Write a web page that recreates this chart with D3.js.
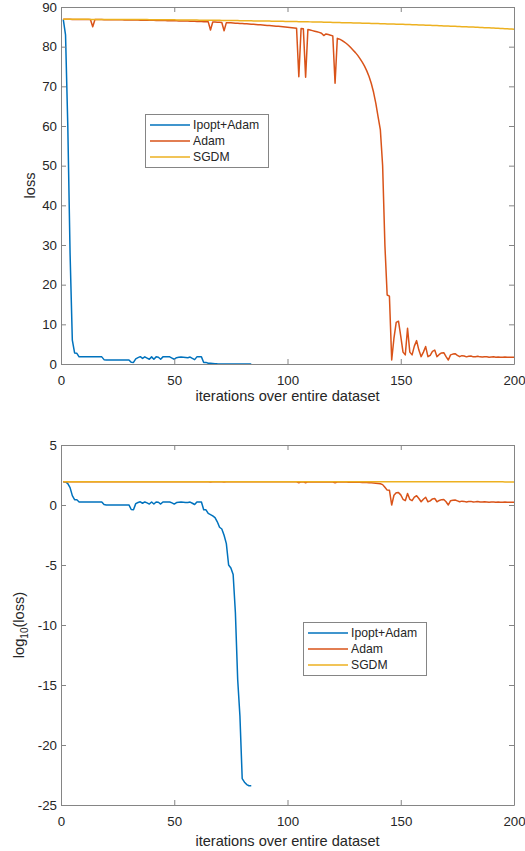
<!DOCTYPE html>
<html><head><meta charset="utf-8">
<script src="https://cdn.jsdelivr.net/npm/d3@7"></script>
<style>
body{margin:0;background:#fff}
svg{display:block}
text{font-family:"Liberation Sans",Arial,Helvetica,sans-serif;fill:#262626}
</style>
</head><body>
<svg id="chart" width="525" height="851"></svg>
<script>
// ---------------- data ----------------
const xTicks = [0, 50, 100, 150, 200];
const yTicksTop = [0, 10, 20, 30, 40, 50, 60, 70, 80, 90];
const yTicksBottom = [-25, -20, -15, -10, -5, 0, 5];
const seriesNames = ["Ipopt+Adam", "Adam", "SGDM"];
const seriesColors = ["#0072BD", "#D95319", "#EDB120"];

// loss per iteration (iteration 1..N)
const ipoptAdam = [
 86.9, 83, 60, 28, 6, 2.8, 2.7, 1.8,
 1.8,1.8,1.8,1.8,1.8,1.8,1.8,1.8,1.8,1.8,
 1.1,
 1.02,1.02,1.02,1.02,1.02,1.02,1.02,1.02,1.02,1.02,1.02,
 0.42,0.4,
 1.3,1.6,1.85,1.4,1.8,1.5,1.2,1.8,1.2,1.8,
 1.7,1.2,1.8,1.8,1.8,1.8,1.5,1.2,1.6,1.7,
 1.75,1.7,1.65,1.6,1.75,1.4,1.1,1.8,1.8,1.8,
 0.4,0.4,0.2,0.16,0.125,0.09,0.04,0.014,0.01,0.003,
 6e-4,1e-5,5.6e-6,1.6e-6,1e-9,3e-15,2.5e-18,1.6e-23,8e-24,5e-24,
 4e-24,4e-24
];
const adam = [
 86.9,86.9,86.9,86.9,86.88,86.88,86.87,86.87,86.86,86.86,
 86.85,86.85,86.84,85.0,86.83,86.83,86.82,86.82,86.81,86.8,
 86.8,86.79,86.78,86.78,86.77,86.76,86.76,86.75,86.74,86.73,
 86.72,86.72,86.71,86.7,86.69,86.68,86.67,86.66,86.65,86.64,
 86.63,86.62,86.61,86.6,86.59,86.58,86.56,86.55,86.54,86.52,
 86.51,86.5,86.48,86.47,86.45,86.44,86.42,86.4,86.38,86.37,
 86.35,86.33,86.31,86.28,86.26,84.2,86.22,86.19,86.17,86.14,
 86.11,84.0,86.06,86.03,86.0,85.97,85.93,85.9,85.86,85.82,
 85.79,85.75,85.71,85.67,85.63,85.58,85.54,85.5,85.45,85.41,
 85.36,85.31,85.27,85.22,85.17,85.12,85.06,85.01,84.96,84.9,
 84.85,84.79,84.73,84.67,72.4,84.55,84.49,72.3,84.3,84.2,
 84.05,83.9,83.75,83.6,83.4,82.8,83.2,83.05,82.9,82.7,
 70.8,82.1,81.9,81.6,81.2,80.8,80.3,79.7,79.1,78.5,
 77.8,77.0,76.1,75.1,73.9,72.5,70.7,68.5,65.7,62.3,
 59,50,30,17.4,17.1,1.0,6.5,10.5,10.8,7.0,
 3.0,2.3,9.0,3.0,2.3,4.5,5.9,3.5,1.85,3.0,
 4.4,1.85,2.2,3.2,3.5,1.85,2.4,2.8,2.85,1.85,
 1.0,2.3,2.5,2.6,2.2,1.85,2.1,2.0,1.8,1.95,
 2.0,1.8,1.85,1.95,1.8,1.75,1.85,1.8,1.7,1.75,
 1.8,1.7,1.75,1.7,1.7,1.75,1.7,1.7,1.7,1.7
];
const sgdm = [
 86.90,86.90,86.90,86.90,86.90,86.89,86.89,86.89,86.89,86.89,
 86.89,86.89,86.88,86.88,86.88,86.88,86.88,86.87,86.87,86.87,
 86.87,86.87,86.86,86.86,86.86,86.86,86.85,86.85,86.85,86.85,
 86.84,86.84,86.84,86.83,86.83,86.83,86.82,86.82,86.81,86.81,
 86.81,86.80,86.80,86.79,86.79,86.78,86.78,86.77,86.77,86.76,
 86.75,86.75,86.74,86.74,86.73,86.73,86.72,86.71,86.71,86.70,
 86.69,86.69,86.68,86.67,86.67,86.66,86.65,86.65,86.64,86.63,
 86.62,86.61,86.61,86.60,86.59,86.58,86.57,86.57,86.56,86.55,
 86.54,86.53,86.52,86.51,86.50,86.50,86.49,86.48,86.47,86.46,
 86.45,86.44,86.43,86.42,86.41,86.40,86.39,86.38,86.37,86.36,
 86.35,86.34,86.33,86.32,86.31,86.29,86.28,86.27,86.26,86.25,
 86.24,86.22,86.21,86.20,86.19,86.17,86.16,86.15,86.13,86.12,
 86.11,86.09,86.08,86.06,86.05,86.04,86.02,86.01,85.99,85.98,
 85.96,85.95,85.93,85.91,85.90,85.88,85.86,85.85,85.83,85.82,
 85.80,85.78,85.76,85.74,85.73,85.71,85.69,85.67,85.65,85.64,
 85.62,85.60,85.58,85.56,85.54,85.52,85.50,85.48,85.46,85.44,
 85.42,85.40,85.37,85.35,85.33,85.31,85.29,85.26,85.24,85.22,
 85.20,85.17,85.15,85.13,85.10,85.08,85.05,85.03,85.01,84.98,
 84.95,84.93,84.90,84.87,84.85,84.82,84.79,84.77,84.74,84.71,
 84.68,84.65,84.62,84.59,84.56,84.54,84.51,84.48,84.45,84.42
];
const seriesValues = [ipoptAdam, adam, sgdm];
const xLabel = "iterations over entire dataset";

// ---------------- drawing ----------------
const svg = d3.select("#chart");
const FONT = '"Liberation Sans", Arial, Helvetica, sans-serif';
const AXIS_COLOR = "#858585";
const x = d3.scaleLinear().domain([0, 200]).range([61, 514]);

const panels = [
  {top: 7, bottom: 364, domain: [0, 90], ticks: yTicksTop, f: v => v,
   ylabel: "loss", ylabelX: 35, titleY: 401, legend: {x: 145, y: 114}},
  {top: 445, bottom: 805, domain: [-25, 5], ticks: yTicksBottom, f: v => Math.log10(v),
   ylabel: null, ylabelX: 24, titleY: 846, legend: {x: 303, y: 622}}
];

function styleAxis(g, showText) {
  g.attr("font-family", FONT).attr("font-size", 13.3);
  g.select(".domain").attr("stroke", AXIS_COLOR);
  g.selectAll(".tick line").attr("stroke", AXIS_COLOR);
  g.selectAll(".tick text").attr("fill", "#262626");
  if (!showText) g.selectAll(".tick text").remove();
}

panels.forEach(p => {
  const y = d3.scaleLinear().domain(p.domain).range([p.bottom, p.top]);
  const g = svg.append("g");

  const line = d3.line().x(d => x(d[0])).y(d => y(p.f(d[1])));
  seriesValues.forEach((vals, i) => {
    g.append("path")
      .datum(vals.map((v, j) => [j + 1, v]))
      .attr("d", line)
      .attr("fill", "none")
      .attr("stroke", seriesColors[i])
      .attr("stroke-width", 1.5)
      .attr("stroke-linejoin", "round");
  });

  g.append("g").attr("transform", `translate(0,${p.bottom})`)
    .call(d3.axisBottom(x).tickValues(xTicks).tickFormat(d => String(d))
      .tickSizeInner(-5).tickSizeOuter(0).tickPadding(12))
    .call(a => styleAxis(a, true));
  g.append("g").attr("transform", `translate(0,${p.top})`)
    .call(d3.axisTop(x).tickValues(xTicks).tickSizeInner(-5).tickSizeOuter(0))
    .call(a => styleAxis(a, false));
  g.append("g").attr("transform", `translate(${x.range()[0]},0)`)
    .call(d3.axisLeft(y).tickValues(p.ticks).tickFormat(d => String(d))
      .tickSizeInner(-5).tickSizeOuter(0).tickPadding(4))
    .call(a => styleAxis(a, true));
  g.append("g").attr("transform", `translate(${x.range()[1]},0)`)
    .call(d3.axisRight(y).tickValues(p.ticks).tickSizeInner(-5).tickSizeOuter(0))
    .call(a => styleAxis(a, false));

  g.append("text")
    .attr("x", (x.range()[0] + x.range()[1]) / 2)
    .attr("y", p.titleY)
    .attr("text-anchor", "middle")
    .attr("font-size", 14.6)
    .text(xLabel);

  const yl = g.append("text")
    .attr("transform", `translate(${p.ylabelX},${(p.top + p.bottom) / 2}) rotate(-90)`)
    .attr("text-anchor", "middle")
    .attr("font-size", 14.6);
  if (p.ylabel) {
    yl.text(p.ylabel);
  } else {
    yl.append("tspan").text("log");
    yl.append("tspan").text("10").attr("font-size", 10).attr("dy", 4);
    yl.append("tspan").text("(loss)").attr("dy", -4);
  }

  const lg = g.append("g").attr("transform", `translate(${p.legend.x},${p.legend.y})`);
  lg.append("rect").attr("x", 0.5).attr("y", 0.5).attr("width", 123).attr("height", 53)
    .attr("fill", "#fff").attr("stroke", AXIS_COLOR).attr("stroke-width", 1);
  seriesNames.forEach((name, i) => {
    const yy = 11 + i * 16;
    lg.append("line").attr("x1", 5).attr("x2", 45).attr("y1", yy).attr("y2", yy)
      .attr("stroke", seriesColors[i]).attr("stroke-width", 1.5);
    lg.append("text").attr("x", 48).attr("y", yy).attr("dy", "0.35em")
      .attr("font-size", 12.2).text(name);
  });
});
</script>
</body></html>
